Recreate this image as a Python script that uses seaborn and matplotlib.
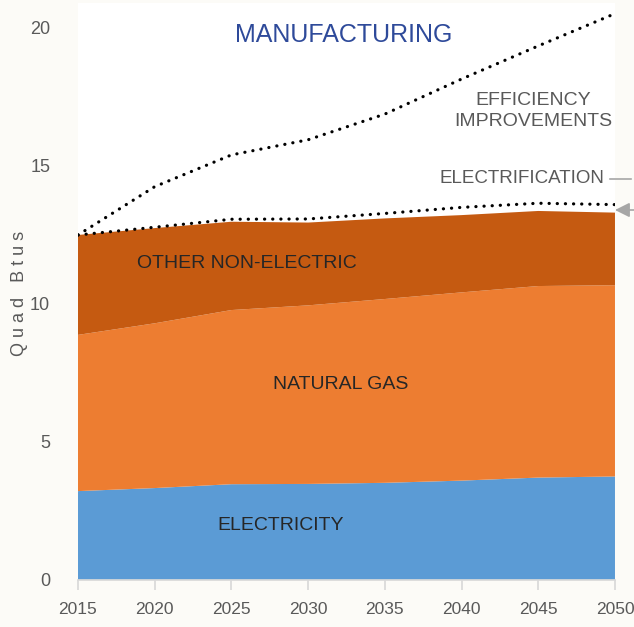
import matplotlib
matplotlib.use("Agg")
import matplotlib.pyplot as plt
import seaborn as sns
import pandas as pd

# values (Quad Btus)
years = [2015, 2020, 2025, 2030, 2035, 2040, 2045, 2050]
electricity = [3.22, 3.33, 3.47, 3.48, 3.52, 3.60, 3.71, 3.75]
natural_gas = [5.66, 5.97, 6.31, 6.47, 6.66, 6.82, 6.94, 6.93]
other_non_electric = [3.62, 3.45, 3.20, 3.00, 2.92, 2.80, 2.72, 2.63]
electrification = [12.50, 12.78, 13.07, 13.08, 13.28, 13.50, 13.65, 13.60]
efficiency = [12.50, 14.25, 15.40, 15.95, 16.88, 18.15, 19.35, 20.52]
y_ticks = [0, 5, 10, 15, 20]

lines = pd.DataFrame({
    "year": years * 2,
    "value": efficiency + electrification,
    "case": ["efficiency"] * len(years) + ["electrification"] * len(years),
})

sns.set_theme(style="white")
plt.rcParams["font.family"] = ["Liberation Sans Narrow", "Liberation Sans", "DejaVu Sans"]

bg = "#FCFBF7"
grey = "#595959"
dark = "#262626"

fig = plt.figure(figsize=(6.34, 6.27), dpi=100, facecolor=bg)
ax = fig.add_axes([0.123, 0.075, 0.847, 0.920])
ax.set_facecolor("white")

ax.stackplot(years, electricity, natural_gas, other_non_electric,
             colors=["#5B9BD5", "#ED7D31", "#C55A11"], edgecolor="none")

sns.lineplot(data=lines, x="year", y="value", units="case", estimator=None,
             color="black", lw=2.3, ax=ax, legend=False)
for ln in ax.get_lines():
    ln.set_linestyle((0, (0.05, 2.5)))
    ln.set_dash_capstyle("round")

ax.set_xlim(2015, 2050)
ax.set_ylim(0, 20.9)
ax.set_xticks(years)
ax.set_yticks(y_ticks)
ax.set_xlabel("")
ax.set_ylabel("")
for s in ["top", "right", "left"]:
    ax.spines[s].set_visible(False)
ax.spines["bottom"].set_color("#D9D9D9")
ax.tick_params(axis="x", bottom=True, length=7, color="#D9D9D9", pad=9,
               labelsize=12.5, labelcolor=grey)
ax.tick_params(axis="y", left=False, length=0, pad=20, labelsize=13, labelcolor=grey)

fig.text(20 / 634, 1 - 293 / 627, "Q u a d   B t u s", rotation=90, ha="center",
         va="center", fontsize=13, color=grey)

ax.text(2032.3, 19.75, "MANUFACTURING", ha="center", va="center",
        fontsize=18, color="#2E4A9A")
ax.text(2026.0, 11.45, "OTHER NON-ELECTRIC", ha="center", va="center",
        fontsize=14, color=dark)
ax.text(2032.1, 7.1, "NATURAL GAS", ha="center", va="center",
        fontsize=14, color=dark)
ax.text(2028.2, 1.96, "ELECTRICITY", ha="center", va="center",
        fontsize=14, color=dark)
ax.text(2044.7, 17.0, "EFFICIENCY\nIMPROVEMENTS", ha="center", va="center",
        fontsize=14, color=grey, linespacing=1.3)
ax.text(2049.3, 14.53, "ELECTRIFICATION", ha="right", va="center",
        fontsize=13.5, color=grey)

# pointer lines on the right margin
ax.annotate("", xy=(607 / 634, 1 - 179 / 627), xytext=(1.0, 1 - 179 / 627),
            xycoords="figure fraction", textcoords="figure fraction",
            arrowprops=dict(arrowstyle="-", color="#A6A6A6", lw=1.2))
ax.annotate("", xy=(615 / 634, 1 - 210 / 627), xytext=(1.0, 1 - 210 / 627),
            xycoords="figure fraction", textcoords="figure fraction",
            arrowprops=dict(arrowstyle="-|>", color="#A6A6A6", lw=1.2,
                            mutation_scale=22, shrinkA=0, shrinkB=0))

fig.savefig("out.png", dpi=100, facecolor=bg)
